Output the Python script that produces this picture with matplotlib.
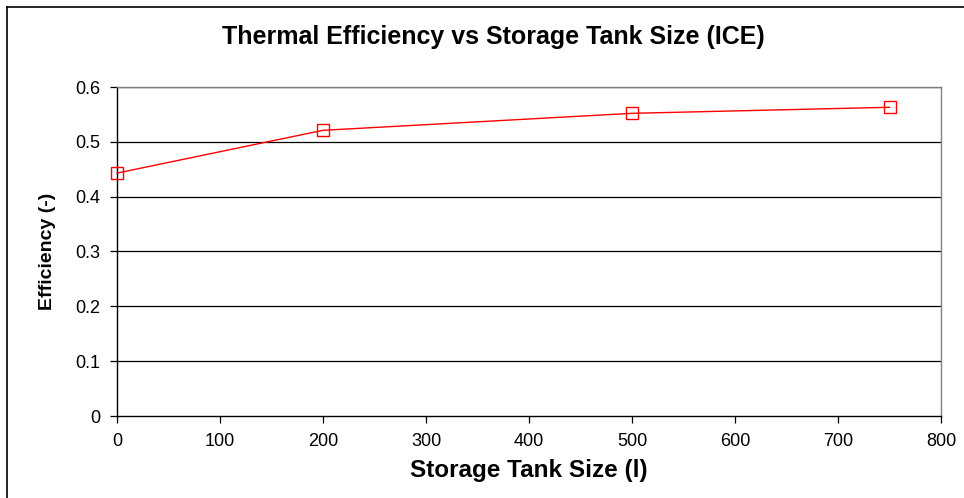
import matplotlib
matplotlib.use("Agg")
import matplotlib.pyplot as plt
from matplotlib.lines import Line2D

plt.rcParams['font.family'] = ['Liberation Sans', 'DejaVu Sans']

tank_size = [0, 200, 500, 750]
efficiency = [0.443, 0.521, 0.552, 0.563]
x_ticks = [0, 100, 200, 300, 400, 500, 600, 700, 800]
y_ticks = [0, 0.1, 0.2, 0.3, 0.4, 0.5, 0.6]
y_labels = ['0', '0.1', '0.2', '0.3', '0.4', '0.5', '0.6']

fig = plt.figure(figsize=(9.64, 4.98), dpi=100)
ax = fig.add_axes([117/964, 82/498, (941-117)/964, (416-87)/498])

for y in y_ticks[1:]:
    ax.axhline(y, color='black', lw=0.9, zorder=1)

ax.plot(tank_size, efficiency, color='#ff0000', lw=1.0, marker='s', markersize=8,
        markerfacecolor='none', markeredgecolor='#ff0000', markeredgewidth=1.0,
        zorder=3, clip_on=False)

ax.set_xlim(0, 800)
ax.set_ylim(0, 0.6)
ax.set_xticks(x_ticks)
ax.set_yticks(y_ticks)
ax.set_yticklabels(y_labels)
ax.tick_params(axis='both', labelsize=13, direction='out', length=5, width=0.9, color='black')
ax.tick_params(axis='x', pad=7)
ax.tick_params(axis='y', pad=7)

ax.spines['left'].set_color('black')
ax.spines['bottom'].set_color('black')
ax.spines['top'].set_color('#808080')
ax.spines['right'].set_color('#808080')
for s in ax.spines.values():
    s.set_linewidth(1.0)

ax.set_xlabel('Storage Tank Size (l)', fontsize=17.5, fontweight='bold', labelpad=7)
ax.set_ylabel('Efficiency (-)', fontsize=14, fontweight='bold', labelpad=14)
fig.text(493/964, 1 - 37/498, 'Thermal Efficiency vs Storage Tank Size (ICE)',
         ha='center', va='center', fontsize=18, fontweight='bold')

fig.add_artist(Line2D([7/964, 1.0], [1 - 7/498, 1 - 7/498], transform=fig.transFigure,
                      color='black', lw=1.2))
fig.add_artist(Line2D([7/964, 7/964], [0, 1 - 7/498], transform=fig.transFigure,
                      color='black', lw=1.2))

fig.savefig('out.png', dpi=100)
